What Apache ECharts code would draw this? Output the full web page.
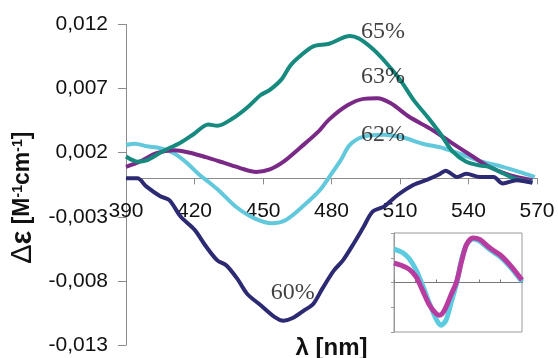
<!DOCTYPE html>
<html><head><meta charset="utf-8">
<script src="https://cdn.jsdelivr.net/npm/echarts@6/dist/echarts.min.js"></script>
<style>html,body{margin:0;padding:0;background:#fff}#c{width:558px;height:358px}</style>
</head><body><div id="c"></div>
<script>
// Main chart: wavelength (nm) vs Δε (×0.001 M^-1 cm^-1)
const xTickLabels = [390, 420, 450, 480, 510, 540, 570];
const yTickLabels = ['-0,013', '-0,008', '-0,003', '0,002', '0,007', '0,012'];

const s65 = [[390,1.7],[395,1.3],[399,1.4],[406,2.1],[414,2.8],[420,3.5],[426,4.2],[430,4.1],[437,4.7],[443,5.5],[449,6.5],[453,6.9],[458,7.7],[462,8.8],[466,9.5],[472,10.3],[479,10.5],[488,11.1],[492,10.9],[498,10.1],[504,9.0],[510,7.7],[516,6.1],[522,4.8],[528,3.4],[533,2.1],[539,1.3],[545,1.0],[549,0.9],[555,0.4],[560,0.0],[568,-0.3]];
const s63 = [[390,0.9],[396,1.3],[403,1.95],[411,2.2],[418,2.0],[425,1.65],[433,1.2],[440,0.8],[447,0.5],[453,0.7],[459,1.3],[466,2.35],[474,3.6],[479,4.6],[487,5.7],[494,6.2],[500,6.25],[506,5.85],[514,4.8],[523,3.9],[532,2.85],[541,1.8],[549,0.9],[558,0.25],[568,-0.15]];
const s62 = [[390,2.6],[394,2.7],[399,2.5],[405,2.35],[411,1.95],[417,1.15],[422,0.3],[427,-0.4],[431,-1.0],[438,-2.2],[446,-3.1],[454,-3.5],[460,-3.25],[468,-2.1],[475,-0.9],[479,0.1],[484,1.4],[488,2.6],[494,3.25],[503,3.4],[511,3.2],[520,2.7],[529,2.35],[538,1.8],[546,1.3],[555,0.9],[564,0.4],[569,0.1]];
const s60 = [[390,0.0],[395,0.0],[399,-0.65],[405,-1.4],[409,-1.7],[414,-3.0],[420,-4.0],[425,-5.3],[430,-6.4],[434,-6.8],[439,-7.9],[443,-9.0],[449,-9.9],[455,-10.8],[459,-11.1],[463,-10.9],[468,-10.3],[472,-9.8],[476,-8.6],[481,-7.2],[485,-6.4],[490,-5.0],[494,-3.8],[498,-2.6],[503,-2.2],[509,-1.3],[516,-0.5],[522,-0.1],[527,0.3],[530,0.6],[535,0.1],[539,0.35],[545,0.1],[551,0.1],[555,-0.4],[561,-0.15],[568,-0.35]];

const seriesNames = ['65%', '63%', '62%', '60%'];
const labelAnchors = [[502.6, 11.4], [502.6, 7.9], [502.6, 3.4], [463, -8.95]];

// Inset (arbitrary units)
const insetCyan = [[390,1.35],[402,1.21],[411,0.98],[421,0.51],[430,-0.1],[440,-0.85],[449,-1.46],[456,-1.73],[463,-1.53],[470,-0.85],[478,-0.03],[485,0.92],[492,1.53],[501,1.76],[511,1.66],[525,1.32],[539,1.05],[553,0.64],[570,0.03]];
const insetMagenta = [[390,0.78],[402,0.67],[411,0.54],[421,0.24],[430,-0.31],[440,-0.92],[449,-1.25],[454,-1.32],[461,-1.12],[470,-0.51],[478,0.03],[485,0.85],[492,1.53],[501,1.8],[511,1.73],[525,1.39],[539,1.12],[553,0.71],[570,0.1]];

const yTickValues = [-13, -8, -3, 2, 7, 12];
const yMin = -13, yMax = 12;
const axisGray = '#8c8c8c';
const font = 'Liberation Sans, Arial, sans-serif';

const W = 558, H = 358;
const gTop = 24.5, gBottom = 13;
// offset of the zero line from the grid's top edge (derived from the axis scale)
const zeroOffset = (H - gTop - gBottom) * (yMax - 0) / (yMax - yMin);

function line(data, color, width, xi, yi, z) {
  return { type: 'line', data, xAxisIndex: xi, yAxisIndex: yi, showSymbol: false, smooth: 0.3,
    lineStyle: { color, width }, z, silent: true };
}

const chart = echarts.init(document.getElementById('c'), null, { renderer: 'canvas' });
chart.setOption({
  animation: false,
  backgroundColor: '#fff',
  grid: [
    { left: 126, right: 21, top: gTop, bottom: gBottom, containLabel: false, outerBoundsMode: 'none' },
    { left: 394, top: 233, width: 128, height: 99, show: true, borderColor: '#9a9a9a', borderWidth: 1, containLabel: false, outerBoundsMode: 'none' }
  ],
  xAxis: [
    { type: 'value', gridIndex: 0, position: 'top', offset: -zeroOffset,
      min: xTickLabels[0], max: xTickLabels[xTickLabels.length - 1], interval: 30,
      axisLine: { onZero: false, lineStyle: { color: axisGray, width: 1 } },
      axisTick: { show: true, inside: true, length: 6, lineStyle: { color: axisGray } },
      axisLabel: { show: true, inside: true, margin: 22, fontSize: 21, fontFamily: font, color: '#111',
        formatter: v => String(v) },
      splitLine: { show: false } },
    { type: 'value', gridIndex: 1, min: 390, max: 570, interval: 30,
      axisLine: { onZero: true, lineStyle: { color: '#777', width: 1 } },
      axisTick: { show: true, inside: true, length: 3, lineStyle: { color: '#777' } },
      axisLabel: { show: false }, splitLine: { show: false } },
    { type: 'value', gridIndex: 0, position: 'bottom', min: 390, max: 570, interval: 30,
      axisLine: { show: false, onZero: false }, axisTick: { show: false }, axisLabel: { show: false },
      splitLine: { show: false },
      name: 'λ [nm]', nameLocation: 'middle', nameGap: -9,
      nameTextStyle: { fontSize: 24, fontWeight: 'bold', fontFamily: font, color: '#111' } }
  ],
  yAxis: [
    { type: 'value', gridIndex: 0, min: yMin, max: yMax, interval: 5,
      axisLine: { show: true, lineStyle: { color: axisGray, width: 1 } },
      axisTick: { show: true, length: 8, lineStyle: { color: axisGray } },
      axisLabel: { margin: 18, fontSize: 21, fontFamily: font, color: '#111',
        formatter: v => { const i = yTickValues.indexOf(Math.round(v)); return i >= 0 ? yTickLabels[i] : ''; } },
      splitLine: { show: false },
      name: '{d|Δ}{e|ε}{a| [M}{s|-1}{a|cm}{s|-1}{a|]}', nameLocation: 'middle', nameRotate: 90, nameGap: 84,
      nameTextStyle: { padding: [0, 26, 0, 0], rich: {
        d: { fontSize: 29, fontWeight: 'normal', fontFamily: font, color: '#111', lineHeight: 24 },
        e: { fontSize: 29, fontWeight: 'bold', fontFamily: font, color: '#111', lineHeight: 24 },
        a: { fontSize: 23, fontWeight: 'bold', fontFamily: font, color: '#111', lineHeight: 24 },
        s: { fontSize: 14, fontWeight: 'bold', fontFamily: font, color: '#111', verticalAlign: 'top', lineHeight: 14 }
      } } },
    { type: 'value', gridIndex: 1, min: -2, max: 2, interval: 1,
      axisLine: { show: true, lineStyle: { color: '#9a9a9a' } },
      axisTick: { show: true, inside: false, length: 3, lineStyle: { color: '#9a9a9a' } },
      axisLabel: { show: false }, splitLine: { show: false } }
  ],
  series: [
    line(s62, '#62c8dc', 4, 0, 0, 2),
    line(s63, '#7a2a86', 4, 0, 0, 3),
    line(s65, '#178a80', 4, 0, 0, 4),
    line(s60, '#2c2a72', 4, 0, 0, 5),
    line(insetCyan, '#5ccbe0', 5, 1, 1, 2),
    line(insetMagenta, '#b83ca0', 5, 1, 1, 3),
    { type: 'scatter', xAxisIndex: 0, yAxisIndex: 0, symbolSize: 0, silent: true, z: 10,
      data: labelAnchors.map((p, i) => ({ value: p, name: seriesNames[i] })),
      label: { show: true, position: 'inside', formatter: p => p.name,
        fontSize: 24, fontFamily: 'Liberation Serif, Times New Roman, serif', color: '#111' } }
  ]
});
</script></body></html>
